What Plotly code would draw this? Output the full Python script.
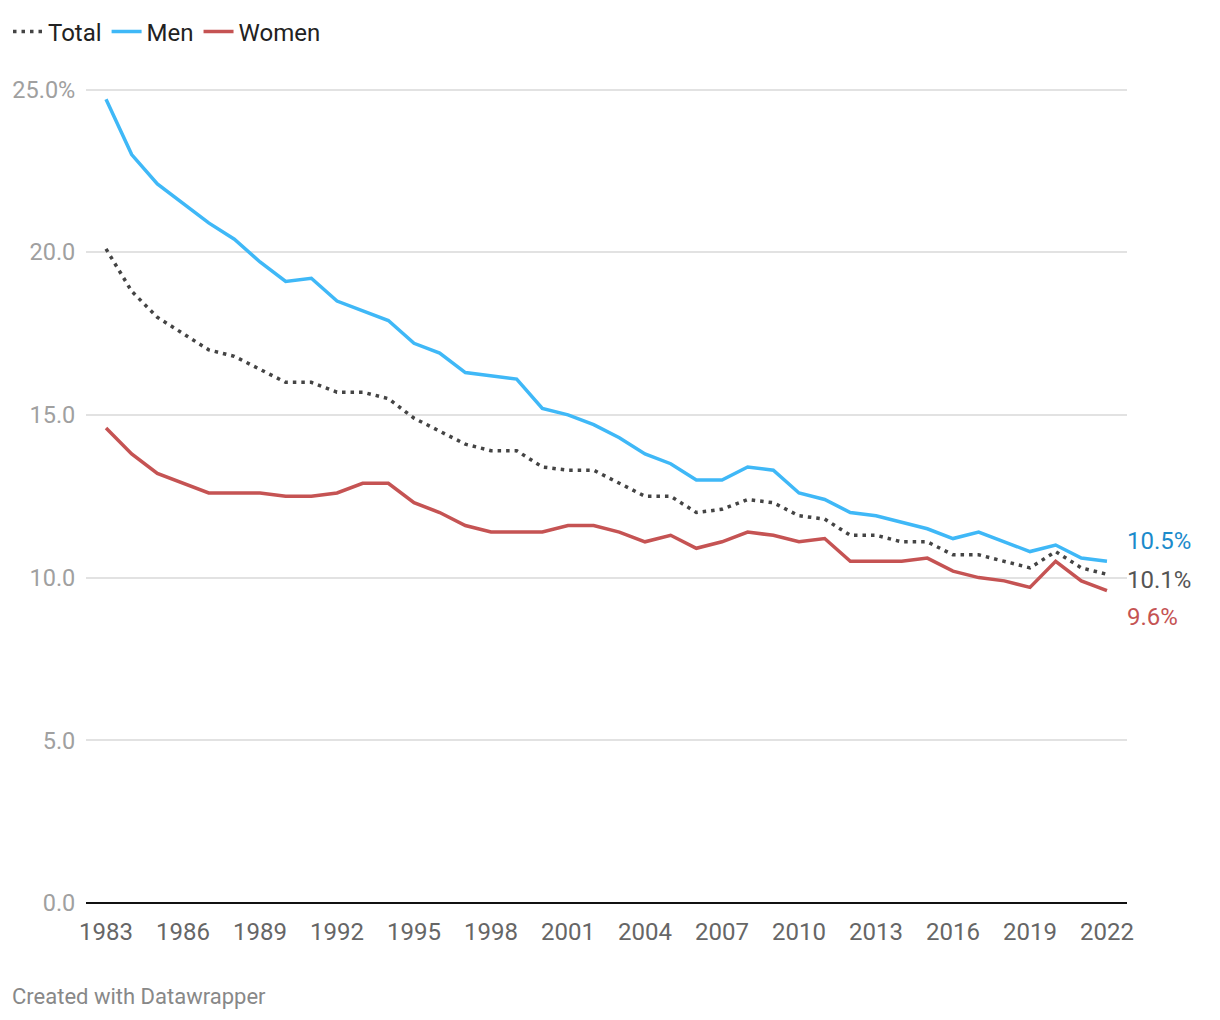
import plotly.graph_objects as go

years = list(range(1983, 2023))
men = [24.7, 23.0, 22.1, 21.5, 20.9, 20.4, 19.7, 19.1, 19.2, 18.5,
       18.2, 17.9, 17.2, 16.9, 16.3, 16.2, 16.1, 15.2, 15.0, 14.7,
       14.3, 13.8, 13.5, 13.0, 13.0, 13.4, 13.3, 12.6, 12.4, 12.0,
       11.9, 11.7, 11.5, 11.2, 11.4, 11.1, 10.8, 11.0, 10.6, 10.5]
total = [20.1, 18.8, 18.0, 17.5, 17.0, 16.8, 16.4, 16.0, 16.0, 15.7,
         15.7, 15.5, 14.9, 14.5, 14.1, 13.9, 13.9, 13.4, 13.3, 13.3,
         12.9, 12.5, 12.5, 12.0, 12.1, 12.4, 12.3, 11.9, 11.8, 11.3,
         11.3, 11.1, 11.1, 10.7, 10.7, 10.5, 10.3, 10.8, 10.3, 10.1]
women = [14.6, 13.8, 13.2, 12.9, 12.6, 12.6, 12.6, 12.5, 12.5, 12.6,
         12.9, 12.9, 12.3, 12.0, 11.6, 11.4, 11.4, 11.4, 11.6, 11.6,
         11.4, 11.1, 11.3, 10.9, 11.1, 11.4, 11.3, 11.1, 11.2, 10.5,
         10.5, 10.5, 10.6, 10.2, 10.0, 9.9, 9.7, 10.5, 9.9, 9.6]

x_ticks = list(range(1983, 2023, 3))
y_ticks = [0, 5, 10, 15, 20, 25]
y_ticktext = ["0.0", "5.0", "10.0", "15.0", "20.0", "25.0%"]

C_TOTAL = "#444444"
C_MEN = "#3fb8f7"
C_WOMEN = "#c55353"
FONT = "Roboto"

W, H = 1212, 1012
L, R, T, B = 78, 93, 74.5, 117
PW = W - L - R
PH = H - T - B

fig = go.Figure()
fig.add_trace(go.Scatter(x=years, y=total, name="Total", mode="lines",
                         line=dict(color=C_TOTAL, width=3.5, dash="3.5px,5px")))
fig.add_trace(go.Scatter(x=years, y=men, name="Men", mode="lines",
                         line=dict(color=C_MEN, width=3.5)))
fig.add_trace(go.Scatter(x=years, y=women, name="Women", mode="lines",
                         line=dict(color=C_WOMEN, width=3.5)))

end_labels = [
    (men[-1], "#1b8bcb", 20),
    (total[-1], "#555555", -6),
    (women[-1], C_WOMEN, -26),
]
for val, col, ys in end_labels:
    fig.add_annotation(x=years[-1], y=val, text=f"{val:.1f}%", showarrow=False,
                       xanchor="left", yanchor="middle", xshift=18, yshift=ys,
                       font=dict(family=FONT, size=24, color=col))

fig.add_annotation(xref="paper", yref="paper", x=(2 - L) / PW, y=-(989 - (H - B)) / PH,
                   xanchor="left", yanchor="middle", showarrow=False,
                   text="Created with Datawrapper",
                   font=dict(family=FONT, size=22, color="#888888"))

fig.update_layout(
    width=W, height=H,
    margin=dict(l=L, r=R, t=T, b=B, autoexpand=False),
    plot_bgcolor="white", paper_bgcolor="white",
    font=dict(family=FONT, size=24, color="#222222"),
    showlegend=True,
    legend=dict(orientation="h", xref="container", yref="container",
                x=0, y=1 - 24 / H, xanchor="left", yanchor="middle",
                font=dict(family=FONT, size=24, color="#222222"),
                itemwidth=30, bgcolor="rgba(0,0,0,0)"),
    xaxis=dict(range=[1982.22, 2022.78], tickvals=x_ticks, automargin=False,
               showgrid=False, zeroline=False, showline=False,
               ticks="outside", ticklen=7, tickcolor="rgba(0,0,0,0)",
               tickfont=dict(family=FONT, size=24, color="#666666")),
    yaxis=dict(range=[0, 25.2], tickvals=y_ticks, ticktext=y_ticktext, automargin=False,
               showgrid=True, gridcolor="#e2e2e2", gridwidth=1.5,
               zeroline=True, zerolinecolor="#111111", zerolinewidth=2,
               showline=False,
               ticks="outside", ticklen=5, tickcolor="rgba(0,0,0,0)",
               tickfont=dict(family=FONT, size=23.5, color="#a0a0a0")),
)

fig.write_html("out.html")
